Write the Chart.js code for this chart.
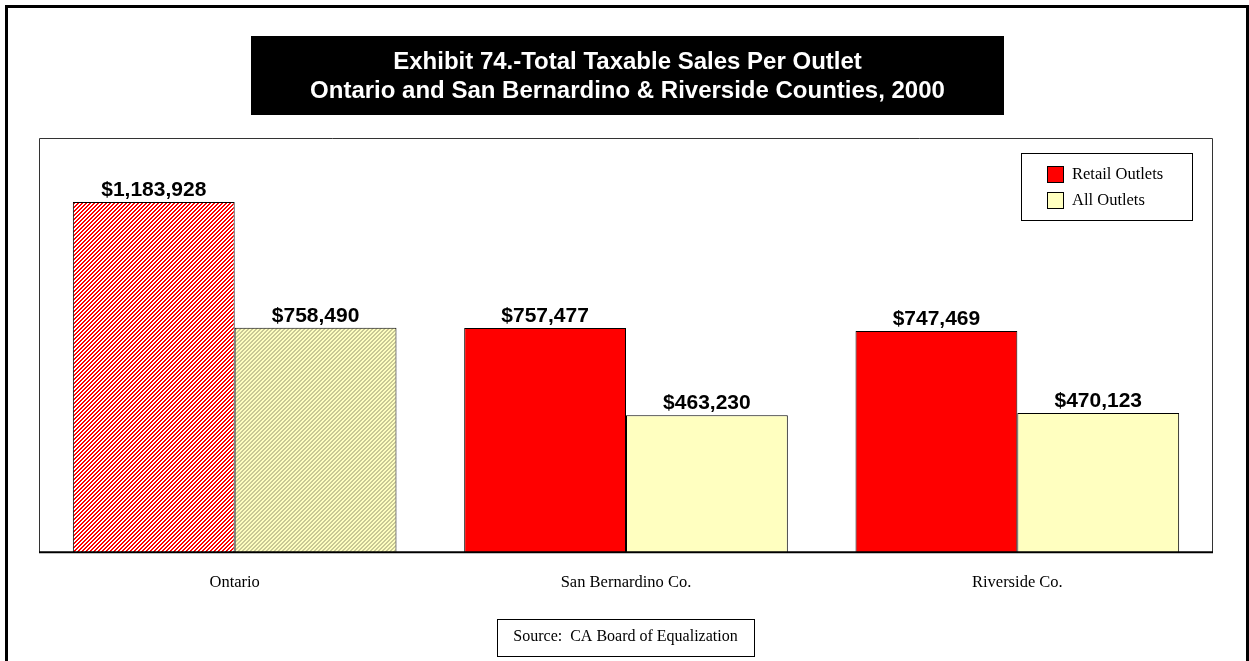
<!DOCTYPE html>
<html>
<head>
<meta charset="utf-8">
<title>Total Taxable Sales Per Outlet</title>
<script src="https://cdn.jsdelivr.net/npm/chart.js@4/dist/chart.umd.min.js"></script>
<style>
  html, body { margin: 0; padding: 0; background: #fff; }
  canvas { display: block; }
</style>
</head>
<body>
<canvas id="salesChart" width="1249" height="661"></canvas>
<script>
// sales per outlet, 2000
const categories = ['Ontario', 'San Bernardino Co.', 'Riverside Co.'];
const seriesNames = ['Retail Outlets', 'All Outlets'];
const retailOutlets = [1183928, 757477, 747469];
const allOutlets = [758490, 463230, 470123];
const titleLines = ['Exhibit 74.-Total Taxable Sales Per Outlet', 'Ontario and San Bernardino & Riverside Counties, 2000'];
const sourceNote = 'Source:  CA Board of Equalization';

const RED = '#ff0000';
const CREAM = '#ffffc0';

// small diagonal hatch used for the Ontario bars
function makeHatch(fg, bg) {
    const c = document.createElement('canvas');
    c.width = 4;
    c.height = 4;
    const g = c.getContext('2d');
    g.fillStyle = bg;
    g.fillRect(0, 0, 4, 4);
    g.fillStyle = fg;
    for (let y = 0; y < 4; y++) {
        for (let x = 0; x < 4; x++) {
            if ((x + y) % 4 < 2) g.fillRect(x, y, 1, 1);
        }
    }
    return g.createPattern(c, 'repeat');
}

const redHatch = makeHatch(RED, '#ffffff');
const creamHatch = makeHatch('#c8c896', CREAM);

const fmt = v => '$' + v.toLocaleString('en-US');

// frame, title box, plot box, legend and source note
const decorations = {
    id: 'decorations',
    beforeDatasetsDraw(chart) {
        const ctx = chart.ctx;
        const a = chart.chartArea;
        ctx.save();
        ctx.strokeStyle = '#333';
        ctx.lineWidth = 1;
        ctx.beginPath();
        ctx.moveTo(a.left + 0.5, a.bottom);
        ctx.lineTo(a.left + 0.5, a.top + 0.5);
        ctx.lineTo(a.right - 0.5, a.top + 0.5);
        ctx.lineTo(a.right - 0.5, a.bottom);
        ctx.stroke();
        ctx.restore();
    },
    afterDatasetsDraw(chart) {
        const ctx = chart.ctx;
        const a = chart.chartArea;
        ctx.save();

        // category axis line
        ctx.strokeStyle = '#000';
        ctx.lineWidth = 2;
        ctx.beginPath();
        ctx.moveTo(a.left, a.bottom);
        ctx.lineTo(a.right, a.bottom);
        ctx.stroke();

        // value labels above each bar
        ctx.fillStyle = '#000';
        ctx.font = 'bold 21px "Liberation Sans", Arial, sans-serif';
        ctx.textAlign = 'center';
        ctx.textBaseline = 'alphabetic';
        chart.data.datasets.forEach((ds, i) => {
            chart.getDatasetMeta(i).data.forEach((bar, j) => {
                ctx.fillText(fmt(ds.data[j]), bar.x, bar.y - 6);
            });
        });

        // outer frame
        ctx.lineWidth = 3;
        ctx.strokeRect(6.5, 6.5, 1241, 680);

        // title box
        ctx.fillStyle = '#000';
        ctx.fillRect(251, 36, 753, 79);
        ctx.fillStyle = '#fff';
        ctx.font = 'bold 24px "Liberation Sans", Arial, sans-serif';
        ctx.textBaseline = 'middle';
        ctx.fillText(titleLines[0], 627.5, 62);
        ctx.fillText(titleLines[1], 627.5, 91);

        // legend
        ctx.fillStyle = '#fff';
        ctx.fillRect(1021, 153, 171, 67);
        ctx.strokeStyle = '#000';
        ctx.lineWidth = 1;
        ctx.strokeRect(1021.5, 153.5, 171, 67);
        const swatches = [RED, CREAM];
        ctx.font = '16.5px "Liberation Serif", "Times New Roman", serif';
        ctx.textAlign = 'left';
        chart.data.datasets.forEach((ds, i) => {
            const y = 166 + i * 26;
            ctx.fillStyle = swatches[i];
            ctx.fillRect(1047, y, 16, 16);
            ctx.strokeRect(1047.5, y + 0.5, 16, 16);
            ctx.fillStyle = '#000';
            ctx.fillText(ds.label, 1072, y + 8.5);
        });

        // source note
        ctx.strokeRect(497.5, 619.5, 257, 37);
        ctx.font = '16px "Liberation Serif", "Times New Roman", serif';
        ctx.textAlign = 'center';
        ctx.fillText(sourceNote, 625.5, 637);

        ctx.restore();
    }
};

new Chart(document.getElementById('salesChart'), {
    type: 'bar',
    data: {
        labels: categories,
        datasets: [
            {
                label: seriesNames[0],
                data: retailOutlets,
                backgroundColor: retailOutlets.map((v, i) => i === 0 ? redHatch : RED),
                borderColor: '#000',
                borderWidth: 1,
                barPercentage: 1,
                categoryPercentage: 0.827
            },
            {
                label: seriesNames[1],
                data: allOutlets,
                backgroundColor: allOutlets.map((v, i) => i === 0 ? creamHatch : CREAM),
                borderColor: '#000',
                borderWidth: 1,
                barPercentage: 1,
                categoryPercentage: 0.827
            }
        ]
    },
    options: {
        responsive: false,
        animation: false,
        devicePixelRatio: 1,
        layout: {
            padding: { left: 39, right: 36, top: 138, bottom: 55 }
        },
        scales: {
            x: {
                grid: { display: false },
                border: { display: false },
                ticks: {
                    color: '#000',
                    padding: 13,
                    maxRotation: 0,
                    font: { family: '"Liberation Serif", "Times New Roman", serif', size: 16.5 }
                }
            },
            y: {
                display: false,
                min: 0,
                max: 1400000
            }
        },
        plugins: {
            legend: { display: false },
            title: { display: false },
            tooltip: { enabled: false }
        }
    },
    plugins: [decorations]
});
</script>
</body>
</html>
